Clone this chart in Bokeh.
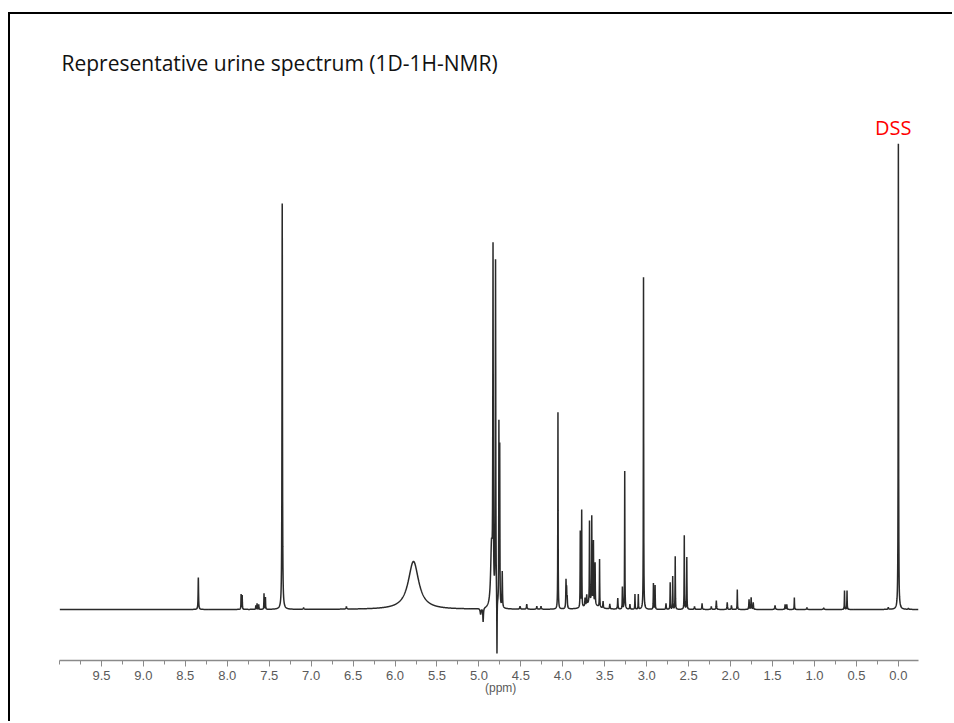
import numpy as np
from bokeh.plotting import figure
from bokeh.models import Range1d, FixedTicker, Label
from bokeh.embed import file_html
from bokeh.resources import INLINE

# Peak table of the 1D 1H-NMR urine spectrum: position (ppm), height (a.u.), half width (ppm)
peak_ppm = [
    8.345, 7.835, 7.822, 7.660, 7.645, 7.625, 7.562, 7.545, 7.345, 7.090, 6.580,
    5.780,
    4.980, 4.950, 4.850, 4.832, 4.802, 4.785, 4.762, 4.752, 4.722,
    4.510, 4.430, 4.310, 4.260,
    4.058, 3.962, 3.955, 3.948, 3.792, 3.775, 3.735, 3.715,
    3.682, 3.655, 3.635, 3.615, 3.562, 3.660,
    3.520, 3.440, 3.345, 3.290, 3.262, 3.200, 3.140, 3.100, 3.038,
    2.920, 2.900, 2.770, 2.720, 2.690, 2.660, 2.552, 2.522,
    2.430, 2.340, 2.230, 2.170, 2.040, 1.990, 1.920, 1.780, 1.755, 1.730,
    1.470, 1.350, 1.330, 1.240, 1.090, 0.890, 0.642, 0.612,
    0.120, 0.000, -0.010, -0.120,
]
peak_height = [
    32, 15, 14, 4, 6, 5, 16, 12, 406, 1.5, 2.5,
    48,
    -6, -14, 60, 345, 343, -60, 180, 157, 36,
    3, 5, 3, 3,
    197, 27, 18, 10, 76, 97, 8, 10,
    81, 85, 61, 41, 48, 8,
    7, 5, 11, 22, 138, 5, 15, 15, 332,
    26, 24, 6, 27, 33, 53, 74, 52,
    3, 6, 3, 9, 7, 4, 20, 10, 12, 7,
    4, 5, 5, 12, 2, 1.5, 19, 19,
    2, 466, -3, 1,
]
peak_width = [
    0.003, 0.002, 0.002, 0.002, 0.002, 0.002, 0.002, 0.002, 0.003, 0.005, 0.005,
    0.075,
    0.006, 0.004, 0.012, 0.003, 0.003, 0.002, 0.002, 0.002, 0.003,
    0.004, 0.004, 0.004, 0.004,
    0.002, 0.003, 0.003, 0.003, 0.002, 0.002, 0.003, 0.003,
    0.002, 0.002, 0.002, 0.002, 0.002, 0.060,
    0.003, 0.003, 0.003, 0.002, 0.002, 0.003, 0.002, 0.002, 0.002,
    0.002, 0.002, 0.003, 0.002, 0.002, 0.002, 0.002, 0.002,
    0.004, 0.003, 0.004, 0.003, 0.003, 0.003, 0.002, 0.003, 0.003, 0.003,
    0.004, 0.003, 0.003, 0.002, 0.004, 0.005, 0.002, 0.002,
    0.004, 0.0025, 0.003, 0.004,
]

# Axis ticks (ppm)
major_ticks = [9.5, 9.0, 8.5, 8.0, 7.5, 7.0, 6.5, 6.0, 5.5, 5.0, 4.5, 4.0,
               3.5, 3.0, 2.5, 2.0, 1.5, 1.0, 0.5, 0.0]
tick_labels = ["9.5", "9.0", "8.5", "8.0", "7.5", "7.0", "6.5", "6.0", "5.5", "5.0",
               "4.5", "4.0", "3.5", "3.0", "2.5", "2.0", "1.5", "1.0", "0.5", "0.0"]
minor_ticks = [10.0, 9.75, 9.25, 8.75, 8.25, 7.75, 7.25, 6.75, 6.25, 5.75, 5.25,
               4.75, 4.25, 3.75, 3.25, 2.75, 2.25, 1.75, 1.25, 0.75, 0.25]

title_text = "Representative urine spectrum (1D-1H-NMR)"
ref_label = "DSS"
x_label = "(ppm)"

# Build the spectrum trace as a sum of Lorentzian lines from the peak table
ppm = np.union1d(np.arange(-0.24, 10.0, 0.002), np.array(peak_ppm))
ppm = ppm[::-1]
intensity = np.zeros_like(ppm)
for c, h, w in zip(peak_ppm, peak_height, peak_width):
    intensity += h / (1.0 + ((ppm - c) / w) ** 2)

p = figure(
    width=944, height=709, margin=(12, 0, 0, 8),
    x_range=Range1d(10.0, -0.24), y_range=Range1d(-51, 569),
    y_axis_type=None, toolbar_location=None, output_backend="svg",
    min_border_left=49, min_border_right=36, min_border_top=26, min_border_bottom=63,
    background_fill_color="white", border_fill_color="white",
)
# slide frame drawn along the top and left edges
p.styles = {"border-top": "2px solid #000", "border-left": "2px solid #000"}
p.outline_line_color = None
p.grid.visible = False

p.line(ppm, intensity, line_color="#2a2a2a", line_width=1.5)

ax = p.xaxis[0]
ax.ticker = FixedTicker(ticks=major_ticks, minor_ticks=minor_ticks)
ax.major_label_overrides = {t: s for t, s in zip(major_ticks, tick_labels)}
ax.axis_line_color = "#8a8a8a"
ax.axis_line_width = 1.3
ax.major_tick_line_color = "#8a8a8a"
ax.minor_tick_line_color = "#8a8a8a"
ax.major_tick_out = 6
ax.major_tick_in = 0
ax.minor_tick_out = 4
ax.minor_tick_in = 0
ax.major_label_text_font = "Liberation Sans"
ax.major_label_text_font_size = "13px"
ax.major_label_text_color = "#5a5a5a"
ax.major_label_standoff = 4
# non-breaking padding nudges the unit label toward 4.75 ppm
ax.axis_label = "\u00a0" * 7 + x_label
ax.axis_label_text_font = "Liberation Sans"
ax.axis_label_text_font_size = "12px"
ax.axis_label_text_font_style = "normal"
ax.axis_label_text_color = "#5a5a5a"
ax.axis_label_standoff = -2

p.add_layout(Label(x=9.976, y=547, text=title_text, text_align="left", text_baseline="middle",
                   text_font="Open Sans", text_font_size="21px", text_color="#111111"))
p.add_layout(Label(x=0.06, y=482, text=ref_label, text_align="center", text_baseline="middle",
                   text_font="Open Sans", text_font_size="20px", text_color="#ff0000"))

open("out.html", "w").write(file_html(p, INLINE))
